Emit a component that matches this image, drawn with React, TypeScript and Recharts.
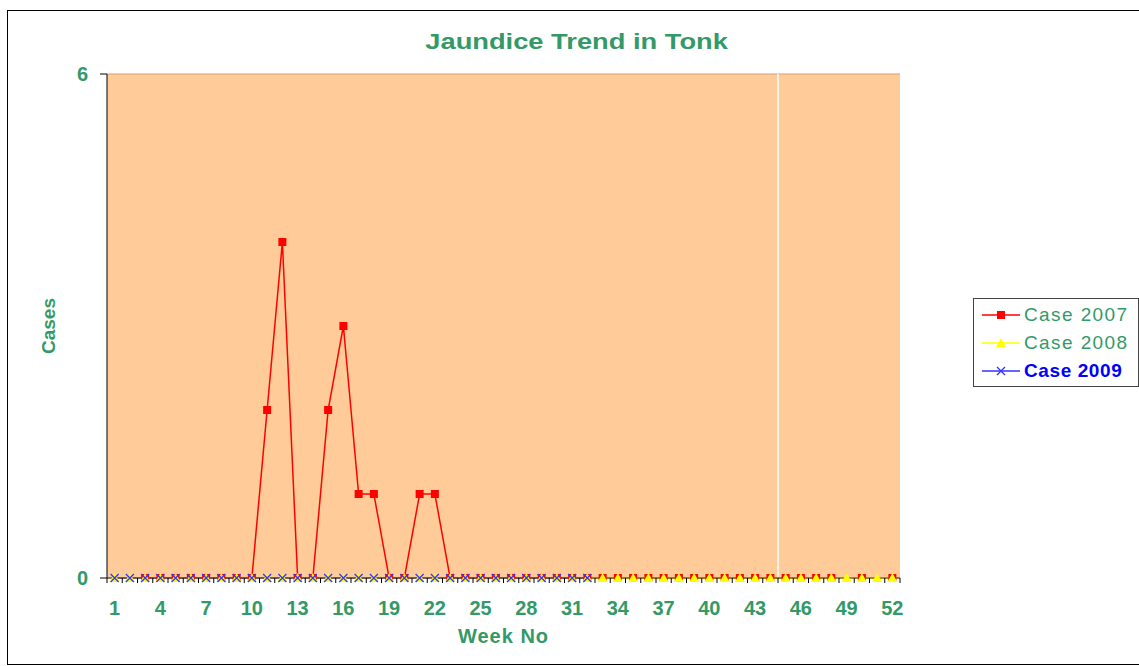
import React from "react"
import { LineChart, Line, XAxis, YAxis, CartesianGrid, Legend, ReferenceLine } from "recharts"

// week numbers on the category axis
const weeks = [
  1, 2, 3, 4, 5, 6, 7, 8, 9, 10, 11, 12, 13, 14, 15, 16, 17, 18, 19, 20, 21, 22, 23, 24, 25, 26,
  27, 28, 29, 30, 31, 32, 33, 34, 35, 36, 37, 38, 39, 40, 41, 42, 43, 44, 45, 46, 47, 48, 49, 50, 51, 52,
]

const case2007 = [
  null, null, 0, 0, 0, 0, 0, 0, 0, 0, 2, 4, 0, 0, 2, 3, 1, 1, 0, 0, 1, 1, 0, 0, 0, 0,
  0, 0, 0, 0, 0, 0, 0, 0, 0, 0, 0, 0, 0, 0, 0, 0, 0, 0, 0, 0, 0, 0, null, 0, null, 0,
]

const case2008 = [
  0, 0, 0, 0, 0, 0, 0, 0, 0, 0, 0, 0, 0, 0, 0, 0, 0, 0, 0, 0, 0, 0, 0, 0, 0, 0,
  0, 0, 0, 0, 0, 0, 0, 0, 0, 0, 0, 0, 0, 0, 0, 0, 0, 0, 0, 0, 0, 0, 0, 0, 0, 0,
]

const case2009 = [
  0, 0, 0, 0, 0, 0, 0, 0, 0, 0, 0, 0, 0, 0, 0, 0, 0, 0, 0, 0, 0, 0, 0, 0, 0, 0,
  0, 0, 0, 0, 0, 0,
]

const yTicks = [0, 6]

const data = weeks.map((w, i) => ({
  week: w,
  c2007: case2007[i],
  c2008: case2008[i],
  c2009: i < case2009.length ? case2009[i] : null,
}))

const GREEN = "#339966"
const FONT = "'Liberation Sans', Arial, sans-serif"
const PLOT_LEFT = 107
const PLOT_RIGHT = 900
const BW = (PLOT_RIGHT - PLOT_LEFT) / weeks.length

const Square = (p: any) => {
  if (p.value == null || p.cx == null) return null
  return <rect key={p.key} x={p.cx - 4} y={p.cy - 4} width={8} height={8} fill="#ff0000" />
}

const Triangle = (p: any) => {
  if (p.value == null || p.cx == null) return null
  const { cx, cy } = p
  return <polygon key={p.key} points={`${cx},${cy - 5} ${cx - 5},${cy + 4} ${cx + 5},${cy + 4}`} fill="#ffff00" />
}

const Cross = (p: any) => {
  if (p.value == null || p.cx == null) return null
  const { cx, cy } = p
  return (
    <path key={p.key} d={`M${cx - 4},${cy - 4}L${cx + 4},${cy + 4}M${cx - 4},${cy + 4}L${cx + 4},${cy - 4}`} stroke="#3333ff" strokeWidth={1.3} />
  )
}

const WeekTick = (p: any) => {
  const { x, y, index } = p
  const left = x - BW / 2
  return (
    <g>
      <line x1={left} x2={left} y1={y} y2={y + 5} stroke="#000" />
      {index === weeks.length - 1 && <line x1={x + BW / 2} x2={x + BW / 2} y1={y} y2={y + 5} stroke="#000" />}
      {index % 3 === 0 && (
        <text x={x} y={y + 37} textAnchor="middle" fill={GREEN} fontSize={20} fontWeight="bold" fontFamily={FONT}>
          {p.payload.value}
        </text>
      )}
    </g>
  )
}

const legendItems = [
  { label: "Case 2007", color: "#ff0000", text: GREEN, bold: false, mark: "sq" },
  { label: "Case 2008", color: "#ffff00", text: GREEN, bold: false, mark: "tri" },
  { label: "Case 2009", color: "#3333ff", text: "#0000ff", bold: true, mark: "x" },
]

const LegendBox = () => (
  <div
    style={{
      border: "1px solid #444",
      background: "#fff",
      width: 166,
      height: 89,
      boxSizing: "border-box",
      padding: "2px 0 0 6px",
      fontFamily: FONT,
    }}
  >
    {legendItems.map((it) => (
      <div key={it.label} style={{ display: "flex", alignItems: "center", height: 28 }}>
        <svg width={42} height={14}>
          <line x1={2} x2={40} y1={7} y2={7} stroke={it.color} strokeWidth={1.5} />
          {it.mark === "sq" && <rect x={17} y={3} width={8} height={8} fill={it.color} />}
          {it.mark === "tri" && <polygon points="21,2 16,11 26,11" fill={it.color} />}
          {it.mark === "x" && <path d="M17,3L25,11M17,11L25,3" stroke={it.color} strokeWidth={1.3} />}
        </svg>
        <span
          style={{
            color: it.text,
            fontSize: 19,
            letterSpacing: it.bold ? 0.6 : 1.4,
            fontWeight: it.bold ? "bold" : "normal",
            marginLeft: 2,
            whiteSpace: "nowrap",
          }}
        >
          {it.label}
        </span>
      </div>
    ))}
  </div>
)

export default function App() {
  return (
    <div style={{ position: "absolute", left: 0, top: 0, width: 1139, height: 666, background: "#fff", overflow: "hidden" }}>
      <div style={{ position: "absolute", left: 7, top: 10, width: 1140, height: 653, border: "1.5px solid #000" }} />
      <div
        style={{
          position: "absolute",
          left: 0,
          width: 1153,
          top: 29,
          textAlign: "center",
          color: GREEN,
          fontFamily: FONT,
          fontWeight: "bold",
          fontSize: 22,
          transform: "scaleX(1.24)",
          transformOrigin: "576px 0",
        }}
      >
        Jaundice Trend in Tonk
      </div>
      <div style={{ position: "absolute", left: 0, top: 0 }}>
        <LineChart width={1139} height={666} data={data} margin={{ top: 74, right: 73, bottom: 0, left: 0 }}>
          <CartesianGrid fill="#FFCC99" vertical={false} stroke="#cfa274" />
          <XAxis
            dataKey="week"
            scale="band"
            interval={0}
            tickLine={false}
            tickSize={0}
            tickMargin={0}
            height={88}
            axisLine={{ stroke: "#333" }}
            tick={<WeekTick />}
            label={{ value: "Week No", position: "insideBottom", offset: 23, fill: GREEN, fontSize: 20, letterSpacing: 1, fontWeight: "bold", fontFamily: FONT }}
          />
          <YAxis
            domain={[0, 6]}
            ticks={yTicks}
            width={107}
            tickSize={7}
            tickMargin={12}
            axisLine={{ stroke: "#000" }}
            tickLine={{ stroke: "#000" }}
            tick={{ fill: GREEN, fontSize: 20, fontWeight: "bold", fontFamily: FONT }}
            label={{ value: "Cases", angle: -90, position: "insideLeft", offset: 48, textAnchor: "middle", fill: GREEN, fontSize: 19, fontWeight: "bold", fontFamily: FONT }}
          />
          <ReferenceLine x={44} position="end" stroke="#ffffff" strokeWidth={1.5} />
          <Line dataKey="c2007" stroke="#ff0000" strokeWidth={1.5} dot={<Square />} isAnimationActive={false} />
          <Line dataKey="c2008" stroke="#ffff00" strokeWidth={1.5} dot={<Triangle />} isAnimationActive={false} />
          <Line dataKey="c2009" stroke="#3333ff" strokeWidth={1.2} dot={<Cross />} isAnimationActive={false} />
          <Legend
            layout="horizontal"
            verticalAlign="middle"
            align="right"
            content={<LegendBox />}
            wrapperStyle={{ left: 973, top: 298, width: 166, height: 89 }}
          />
        </LineChart>
      </div>
    </div>
  )
}
